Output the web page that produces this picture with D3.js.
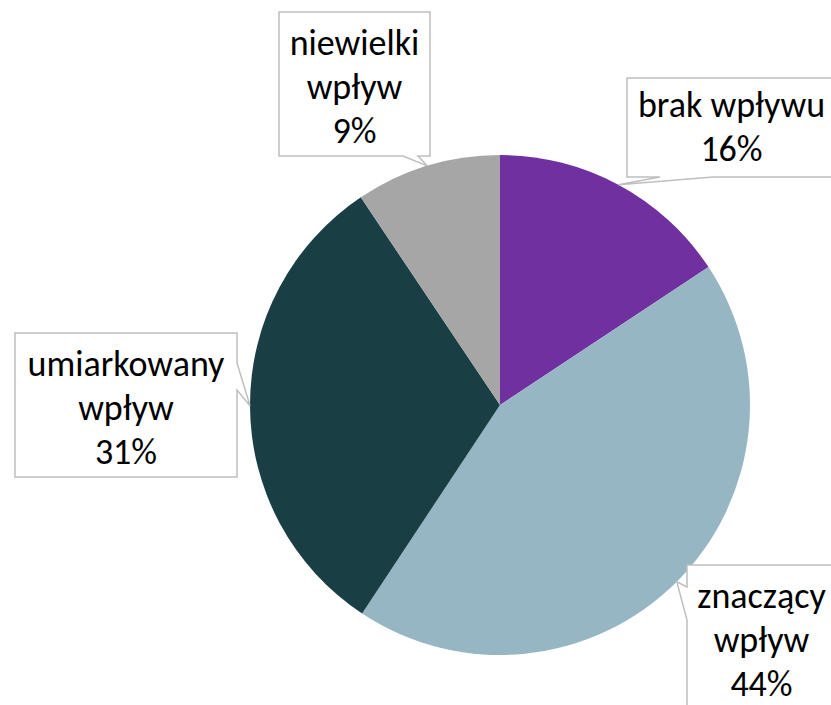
<!DOCTYPE html>
<html>
<head>
<meta charset="utf-8">
<script src="https://cdn.jsdelivr.net/npm/d3@7"></script>
<style>
  body { margin: 0; background: #fff; }
  svg { display: block; }
</style>
</head>
<body>
<svg></svg>
<script>
var categories = ["brak wpływu", "znaczący wpływ", "umiarkowany wpływ", "niewielki wpływ"];
var labelLines = [["brak wpływu"], ["znaczący", "wpływ"], ["umiarkowany", "wpływ"], ["niewielki", "wpływ"]];
var shares = [15.7, 43.6, 31.3, 9.4];
var colors = ["#7030A0", "#97B6C4", "#193F44", "#A6A6A6"];

// callout boxes: x0,x1,y0,y1, side where the wedge sits and its base span
var callouts = [
  {x0: 627, x1: 836, y0: 78, y1: 177, side: "bottom", b0: 713, b1: 660},
  {x0: 687, x1: 840, y0: 565, y1: 720, side: "left", b0: 620, b1: 587},
  {x0: 15, x1: 237, y0: 333, y1: 477, side: "right", b0: 363, b1: 390},
  {x0: 279, x1: 430, y0: 12, y1: 156, side: "bottom", b0: 418, b1: 403}
];

var width = 831;
var height = 705;
var cx = 500, cy = 405, radius = 250;
var lineHeight = 44;

var data = categories.map(function(c, i) {
  return {name: c, lines: labelLines[i].concat([Math.round(shares[i]) + "%"]), value: shares[i], color: colors[i], box: callouts[i]};
});

var svg = d3.select("svg")
    .attr("width", width)
    .attr("height", height);

var pie = d3.pie().sort(null).value(d => d.value);
var arc = d3.arc().innerRadius(0).outerRadius(radius);
var edge = d3.arc().innerRadius(radius).outerRadius(radius);

var arcs = pie(data);

var g = svg.append("g")
    .attr("transform", "translate(" + cx + "," + cy + ")");

g.selectAll("path")
  .data(arcs)
  .enter()
  .append("path")
    .attr("d", arc)
    .attr("fill", d => d.data.color);

function calloutPath(d) {
  var b = d.data.box;
  var tip = edge.centroid(d);
  var t = [tip[0] + cx, tip[1] + cy];
  var p;
  if (b.side === "bottom") {
    p = [[b.x0, b.y0], [b.x1, b.y0], [b.x1, b.y1], [Math.max(b.b0, b.b1), b.y1], t, [Math.min(b.b0, b.b1), b.y1], [b.x0, b.y1]];
  } else if (b.side === "right") {
    p = [[b.x0, b.y0], [b.x1, b.y0], [b.x1, Math.min(b.b0, b.b1)], t, [b.x1, Math.max(b.b0, b.b1)], [b.x1, b.y1], [b.x0, b.y1]];
  } else {
    p = [[b.x0, b.y0], [b.x1, b.y0], [b.x1, b.y1], [b.x0, b.y1], [b.x0, Math.max(b.b0, b.b1)], t, [b.x0, Math.min(b.b0, b.b1)]];
  }
  return d3.line()(p) + "Z";
}

var labels = svg.selectAll(".callout")
  .data(arcs)
  .enter()
  .append("g")
    .attr("class", "callout");

labels.append("path")
    .attr("d", calloutPath)
    .attr("fill", "#fff")
    .attr("stroke", "#BFBFBF")
    .attr("stroke-width", 1.5);

labels.each(function(d) {
  var b = d.data.box;
  var mx = (b.x0 + Math.min(b.x1, width + 5)) / 2;
  var top = b.y0 + 43;
  if (d.data.name === "brak wpływu") top = b.y0 + 39;
  var text = d3.select(this).append("text")
      .attr("text-anchor", "middle")
      .style("font-family", "Carlito, Lato, 'Liberation Sans', sans-serif")
      .style("font-size", "36px")
      .attr("fill", "#000");
  d.data.lines.forEach(function(line, i) {
    text.append("tspan")
        .attr("x", mx)
        .attr("y", top + i * lineHeight)
        .text(line);
  });
});
</script>
</body>
</html>
